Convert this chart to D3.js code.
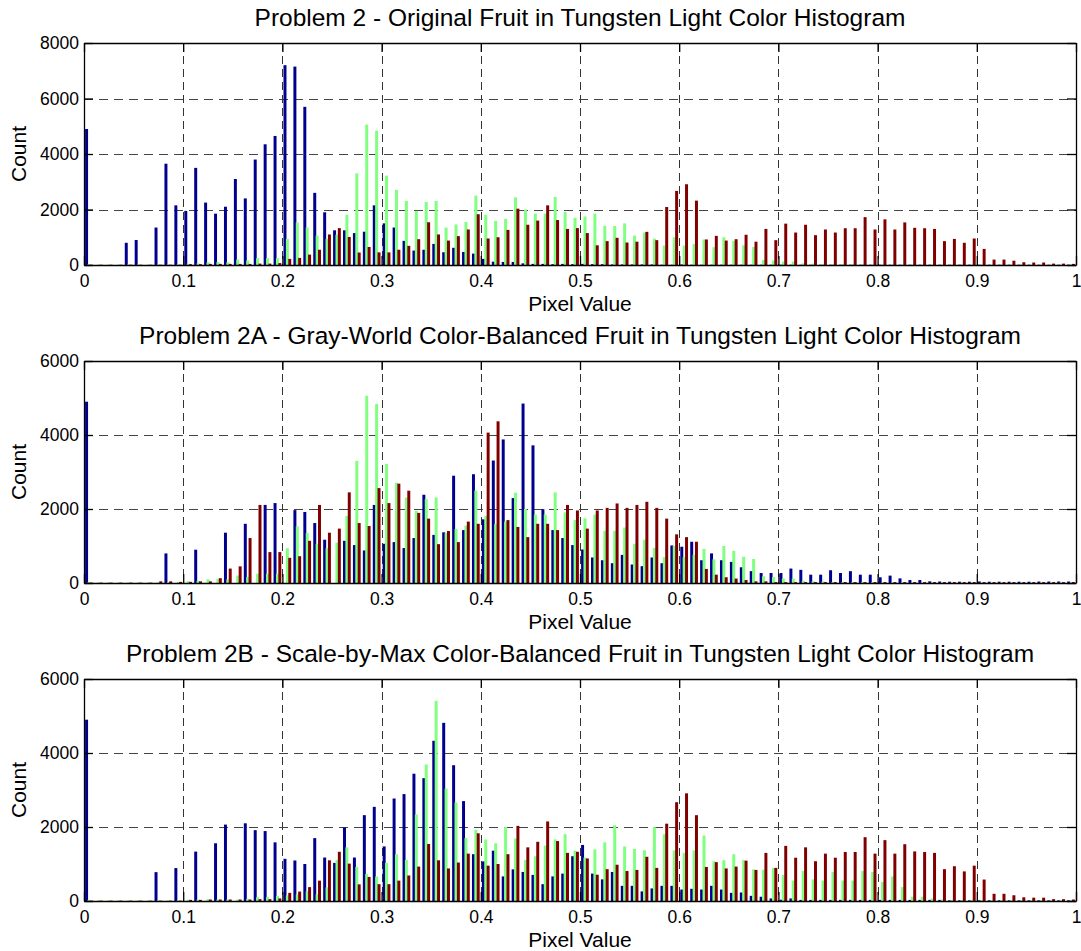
<!DOCTYPE html>
<html>
<head>
<meta charset="utf-8">
<script src="https://cdnjs.cloudflare.com/ajax/libs/d3/7.8.5/d3.min.js"></script>
<style>
body { margin: 0; background: #fff; }
text { font-family: "Liberation Sans", Arial, Helvetica, sans-serif; fill: #000; }
</style>
</head>
<body>
<script>
// 100 bins on [0,1], three channels drawn as grouped bars (blue, green, red)
var binCount = 100;
var xTicks = [0, 0.1, 0.2, 0.3, 0.4, 0.5, 0.6, 0.7, 0.8, 0.9, 1];
var xTickLabels = ["0", "0.1", "0.2", "0.3", "0.4", "0.5", "0.6", "0.7", "0.8", "0.9", "1"];
var yTicksOriginal = [0, 2000, 4000, 6000, 8000];
var yTicksBalanced = [0, 2000, 4000, 6000];
var titles = [
    "Problem 2 - Original Fruit in Tungsten Light Color Histogram",
    "Problem 2A - Gray-World Color-Balanced Fruit in Tungsten Light Color Histogram",
    "Problem 2B - Scale-by-Max Color-Balanced Fruit in Tungsten Light Color Histogram"
];
var seriesColors = ["#00008f", "#80ff80", "#800000"];

// original image
var blueOriginal = [4900,0,0,0,800,900,0,1350,3650,2150,
    1950,3500,2250,1850,2100,3100,2400,3800,4350,4650,
    7200,7150,5700,2600,1900,1250,1250,1150,1200,2150,
    1500,1350,870,520,550,760,460,620,470,410,
    220,120,110,110,60,40,40,30,40,30,
    40,30,30,20,20,20,20,20,10,10,
    20,10,10,10,10,10,10,10,10,10,
    10,10,10,10,10,10,10,10,10,10,
    10,10,10,10,10,10,10,10,10,10,
    10,10,10,10,10,10,10,10,10,10];

// green is unchanged by gray-world, so panels 1 and 2 share it
var greenOriginal = [30,20,20,20,20,20,20,20,20,30,
    50,60,100,110,100,200,160,250,250,250,
    940,1530,1350,1060,940,1090,1810,3300,5060,4840,
    3220,2710,2310,1950,2270,2310,1350,1460,1550,2500,
    1810,1590,1660,2440,2000,1850,1850,2450,1910,1700,
    1750,1850,1410,1410,1500,1060,1170,950,700,1000,
    700,760,920,640,1000,870,710,650,180,160,
    120,120,60,50,40,30,30,30,30,20,
    10,10,10,10,10,10,10,10,10,10,
    10,10,10,10,10,10,10,10,10,10];

// red is unchanged by scale-by-max, so panels 1 and 3 share it
var redOriginal = [10,10,10,10,10,10,10,10,10,10,
    30,30,40,40,40,40,40,50,50,70,
    220,255,375,550,1100,1330,1010,450,650,455,
    455,550,690,930,1540,1100,880,1040,1280,1830,
    955,1000,1265,2030,1450,1600,2150,1620,1300,1330,
    1150,710,860,980,810,840,1195,895,2090,2670,
    2910,2320,920,1050,880,930,1090,840,1300,895,
    1490,1170,1450,1075,1280,1170,1325,1325,1725,1280,
    1645,1280,1535,1340,1325,1300,860,940,800,955,
    580,195,195,155,100,90,90,50,50,40];

// gray-world balanced
var blueGrayWorld = [4900,0,0,0,0,0,0,0,800,0,
    0,900,0,0,1360,0,1600,0,2110,2160,
    0,1970,1920,1620,1170,0,1140,1025,880,2110,
    1060,1105,945,1215,2385,1300,1370,2900,1430,2940,
    1720,3310,3880,2295,4850,3720,1995,1430,1215,1025,
    905,690,615,535,760,500,455,690,535,1015,
    980,1115,615,800,615,570,425,320,270,270,
    270,390,355,225,225,345,270,320,225,225,
    155,200,125,80,80,45,40,35,35,35,
    40,35,35,35,35,35,40,40,40,40];

var redGrayWorld = [10,10,10,10,10,10,10,45,45,30,
    30,45,45,130,390,450,1215,2110,835,835,
    680,725,1140,2110,1360,1470,2450,1620,1540,2565,
    2160,2685,2495,1895,1740,1050,1405,1105,1660,1600,
    4065,4370,1700,1515,1240,1600,1600,1430,2110,1960,
    1470,1960,2030,2150,2030,2110,2195,2030,1740,1315,
    1240,1115,380,225,155,120,80,45,45,25,
    25,25,25,25,25,25,25,25,25,25,
    25,25,25,25,25,25,25,25,25,25,
    25,25,25,25,25,25,25,25,25,25];

// scale-by-max balanced
var blueScaleMax = [4900,0,0,0,0,0,0,780,0,890,
    0,1335,0,1560,2065,0,2100,1915,1890,1585,
    1140,1095,1000,1700,1175,1030,1985,1175,2320,2545,
    1475,2770,2890,3440,3320,4330,4815,3670,2700,1265,
    1070,1360,665,855,785,705,455,665,740,1210,
    1515,740,585,785,410,410,260,340,410,410,
    310,330,310,410,310,220,230,140,115,70,
    35,70,30,30,30,30,30,30,30,30,
    30,30,30,30,30,30,30,20,20,20,
    20,20,20,20,20,20,20,20,20,20];

var greenScaleMax = [30,20,20,20,20,20,20,20,20,20,
    35,40,50,40,40,40,60,105,105,140,
    150,180,260,180,365,1105,1450,920,730,660,
    1030,1265,1110,2340,3690,5410,3040,2665,1700,1925,
    1665,1560,2000,1690,1105,1210,1495,1665,1805,1360,
    1175,1395,1585,2050,1475,1405,1370,1995,1805,1370,
    1300,1370,1770,1075,1100,1265,1105,855,845,890,
    705,550,810,585,550,785,550,550,810,785,
    515,660,375,115,115,70,40,30,30,30,
    20,20,20,20,20,20,20,20,20,20];

var panels = [
    { title: titles[0], yTicks: yTicksOriginal, series: [blueOriginal, greenOriginal, redOriginal] },
    { title: titles[1], yTicks: yTicksBalanced, series: [blueGrayWorld, greenOriginal, redGrayWorld] },
    { title: titles[2], yTicks: yTicksBalanced, series: [blueScaleMax, greenScaleMax, redOriginal] }
];

var w = 1081, h = 951;
var left = 84, right = 1076;
var plotH = 222, firstTop = 43, panelStep = 318;
var groupOffsets = [-0.0024, 0, 0.0024];

var svg = d3.select("body")
    .append("svg")
    .attr("width", w)
    .attr("height", h);

var x = d3.scaleLinear().domain([0, 1]).range([left, right]);
var barW = x(0.003) - x(0);

panels.forEach(function(p, i) {
    var top = firstTop + i * panelStep;
    var bottom = top + plotH;
    var y = d3.scaleLinear()
        .domain([0, p.yTicks[p.yTicks.length - 1]])
        .range([bottom, top]);

    var g = svg.append("g");

    // dashed grid, behind the bars
    g.selectAll(".vgrid")
        .data(xTicks.slice(1, -1))
        .enter()
        .append("line")
        .attr("x1", function(d) { return Math.round(x(d)) + 0.5; })
        .attr("x2", function(d) { return Math.round(x(d)) + 0.5; })
        .attr("y1", top)
        .attr("y2", bottom)
        .attr("stroke", "#333")
        .attr("stroke-width", 1)
        .attr("stroke-dasharray", "8,5");

    g.selectAll(".hgrid")
        .data(p.yTicks.slice(1, -1))
        .enter()
        .append("line")
        .attr("x1", left)
        .attr("x2", right)
        .attr("y1", function(d) { return Math.round(y(d)) + 0.5; })
        .attr("y2", function(d) { return Math.round(y(d)) + 0.5; })
        .attr("stroke", "#444")
        .attr("stroke-width", 1)
        .attr("stroke-dasharray", "9,6");

    // bars
    p.series.forEach(function(s, j) {
        g.selectAll(".bar" + j)
            .data(s)
            .enter()
            .append("rect")
            .attr("x", function(d, k) {
                return x((k + 0.5) / binCount + groupOffsets[j]) - barW / 2;
            })
            .attr("y", function(d) { return y(d); })
            .attr("width", barW)
            .attr("height", function(d) { return y(0) - y(d); })
            .attr("fill", seriesColors[j]);
    });

    // axes: ticks point inward on all four sides
    var xAxis = d3.axisBottom(x)
        .tickValues(xTicks)
        .tickFormat(function(d, k) { return xTickLabels[k]; })
        .tickSizeInner(-9)
        .tickSizeOuter(0)
        .tickPadding(10);
    var xAxisTop = d3.axisTop(x).tickValues(xTicks).tickFormat("").tickSizeInner(-9).tickSizeOuter(0);
    var yAxis = d3.axisLeft(y)
        .tickValues(p.yTicks)
        .tickFormat(d3.format("d"))
        .tickSizeInner(-9)
        .tickSizeOuter(0)
        .tickPadding(5);
    var yAxisRight = d3.axisRight(y).tickValues(p.yTicks).tickFormat("").tickSizeInner(-9).tickSizeOuter(0);

    var axes = [
        g.append("g").attr("transform", "translate(0," + bottom + ")").call(xAxis),
        g.append("g").attr("transform", "translate(0," + top + ")").call(xAxisTop),
        g.append("g").attr("transform", "translate(" + left + ",0)").call(yAxis),
        g.append("g").attr("transform", "translate(" + right + ",0)").call(yAxisRight)
    ];
    axes.forEach(function(a) {
        a.selectAll("path, line").attr("stroke", "#000").attr("stroke-width", 1.3);
        a.selectAll("text")
            .attr("font-family", "Liberation Sans, Arial, sans-serif")
            .attr("font-size", "17.5px")
            .attr("fill", "#000");
    });

    // title and labels
    g.append("text")
        .text(p.title)
        .attr("x", (left + right) / 2)
        .attr("y", top - 17)
        .attr("text-anchor", "middle")
        .attr("font-size", "24.5px");

    g.append("text")
        .text("Pixel Value")
        .attr("x", (left + right) / 2)
        .attr("y", bottom + 46)
        .attr("text-anchor", "middle")
        .attr("font-size", "21px");

    g.append("text")
        .text("Count")
        .attr("transform", "translate(26," + (top + plotH / 2) + ") rotate(-90)")
        .attr("text-anchor", "middle")
        .attr("font-size", "21px");
});
</script>
</body>
</html>
